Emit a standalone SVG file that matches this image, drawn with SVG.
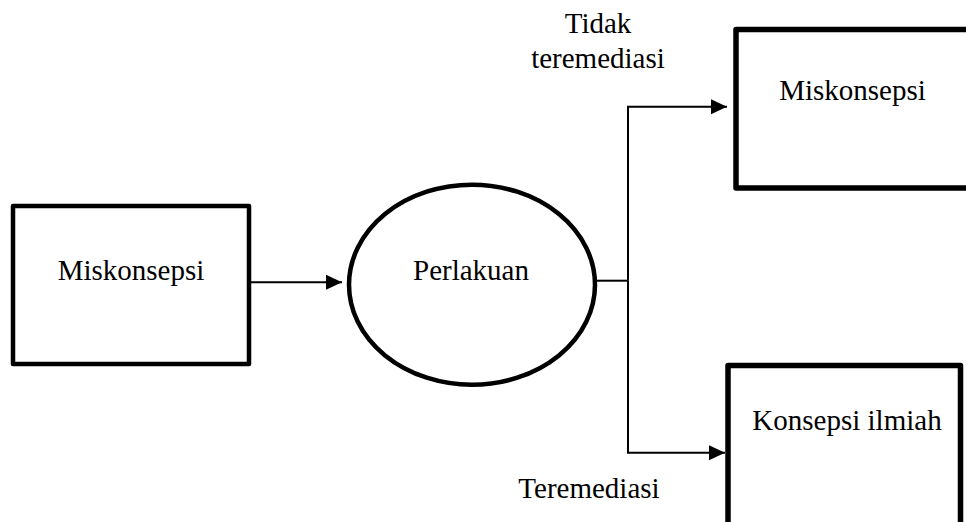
<svg xmlns="http://www.w3.org/2000/svg" width="966" height="522" viewBox="0 0 966 522">
  <style>
    .box { fill: #ffffff; stroke: #000000; stroke-width: 4.5; stroke-linejoin: round; }
    .box-thick { stroke-width: 5.5; }
    .label { font-family: "Liberation Serif", "Times New Roman", serif; font-size: 29px; fill: #000000; text-anchor: middle; }
    .wire { fill: none; stroke: #000000; stroke-width: 2; }
  </style>
  <defs>
    <marker id="arrow" markerWidth="16" markerHeight="16" refX="16" refY="8" markerUnits="userSpaceOnUse" orient="auto">
      <path d="M0,0.5 L16,8 L0,15.5 Z" fill="#000000"/>
    </marker>
  </defs>
  <rect width="966" height="522" fill="#ffffff"/>

  <g id="miskonsepsi-awal">
    <rect class="box" x="13" y="206" width="236" height="158"/>
    <text class="label" x="131" y="280">Miskonsepsi</text>
  </g>

  <g id="perlakuan">
    <ellipse class="box" cx="472" cy="284.7" rx="123" ry="100" stroke-width="4.8"/>
    <text class="label" x="471" y="280">Perlakuan</text>
  </g>

  <g id="miskonsepsi-akhir">
    <rect class="box box-thick" x="736" y="29.5" width="240" height="158.5"/>
    <text class="label" x="852.5" y="100">Miskonsepsi</text>
  </g>

  <g id="konsepsi-ilmiah">
    <rect class="box box-thick" x="728" y="365.5" width="232.5" height="170"/>
    <text class="label" x="847" y="430">Konsepsi ilmiah</text>
  </g>

  <g id="connectors">
    <line class="wire" x1="250" y1="282.3" x2="342" y2="282.3" marker-end="url(#arrow)"/>
    <line class="wire" x1="596" y1="280.7" x2="628" y2="280.7"/>
    <path class="wire" d="M628,280.7 V106.7 H727" marker-end="url(#arrow)"/>
    <path class="wire" d="M628,280.7 V452.7 H725" marker-end="url(#arrow)"/>
  </g>

  <g id="edge-labels">
    <text class="label" x="598" y="33">Tidak</text>
    <text class="label" x="598" y="68.3">teremediasi</text>
    <text class="label" x="589" y="498.3">Teremediasi</text>
  </g>
</svg>
